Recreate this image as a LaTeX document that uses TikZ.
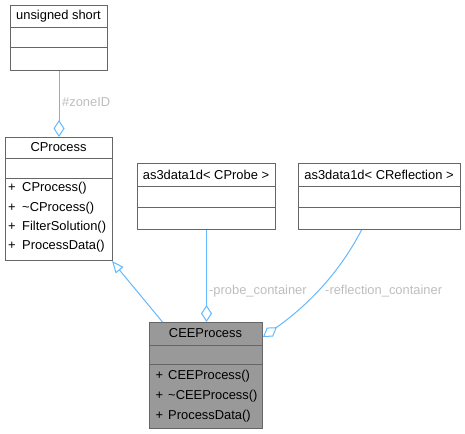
\documentclass[tikz,border=0pt]{standalone}
\usepackage{fontspec}
\setmainfont{Liberation Sans}
\usetikzlibrary{arrows.meta}
\definecolor{boxgray}{HTML}{666666}
\definecolor{edgeblue}{HTML}{63B8FF}
\definecolor{lblgray}{HTML}{BEBEBE}
\definecolor{selfill}{HTML}{999999}
\tikzset{
  clsbox/.style={draw=boxgray, line width=1pt, inner sep=0pt, anchor=north west, fill=white},
  sepline/.style={draw=boxgray, line width=1pt},
  ttl/.style={inner sep=0pt, anchor=center, font=\fontsize{12.9}{15}\selectfont},
  mth/.style={inner sep=0pt, anchor=west, font=\fontsize{12.9}{15}\selectfont},
  lbl/.style={inner sep=0pt, anchor=west, text=lblgray, font=\fontsize{12.9}{15}\selectfont},
  edge/.style={draw=edgeblue, line width=1pt},
  aggr/.style={edge, -{Diamond[open, length=17pt, width=11pt]}},
  inher/.style={edge, -{Triangle[open, length=12pt, width=10pt]}}
}
\begin{document}
\begin{tikzpicture}[x=1pt,y=-1pt]
\useasboundingbox (0,0) rectangle (465,433);

% unsigned short
\node[clsbox, minimum width=97pt, minimum height=65pt] (us) at (10,5) {};
\draw[sepline] (us.west |- 0,28) -- (us.east |- 0,28);
\draw[sepline] (us.west |- 0,48) -- (us.east |- 0,48);
\node[ttl] (ust) at (58.5,16.5) {unsigned short};

% CProcess
\node[clsbox, minimum width=107pt, minimum height=123pt] (cp) at (5,137) {};
\draw[sepline] (cp.west |- 0,158) -- (cp.east |- 0,158);
\draw[sepline] (cp.west |- 0,178) -- (cp.east |- 0,178);
\node[ttl] (cpt) at (58.5,147.5) {CProcess};
\node[mth] (cpm1) at (8,188) {+\hspace{6.5pt}CProcess()};
\node[mth] (cpm2) at (8,208) {+\hspace{6.5pt}\char"007E CProcess()};
\node[mth] (cpm3) at (8,227) {+\hspace{6.5pt}FilterSolution()};
\node[mth] (cpm4) at (8,246) {+\hspace{6.5pt}ProcessData()};

% as3data1d< CProbe >
\node[clsbox, minimum width=138pt, minimum height=66pt] (pr) at (137,163) {};
\draw[sepline] (pr.west |- 0,186) -- (pr.east |- 0,186);
\draw[sepline] (pr.west |- 0,207) -- (pr.east |- 0,207);
\node[ttl] (prt) at (206,175) {as3data1d< CProbe >};

% as3data1d< CReflection >
\node[clsbox, minimum width=162pt, minimum height=66pt] (rf) at (298,163) {};
\draw[sepline] (rf.west |- 0,186) -- (rf.east |- 0,186);
\draw[sepline] (rf.west |- 0,207) -- (rf.east |- 0,207);
\node[ttl] (rft) at (379,175) {as3data1d< CReflection >};

% CEEProcess
\node[clsbox, fill=selfill, minimum width=113pt, minimum height=106pt] (ce) at (149,322) {};
\draw[sepline] (ce.west |- 0,345) -- (ce.east |- 0,345);
\draw[sepline] (ce.west |- 0,364) -- (ce.east |- 0,364);
\node[ttl] (cet) at (205.5,333.5) {CEEProcess};
\node[mth] (cem1) at (155.5,376) {+\hspace{5pt}CEEProcess()};
\node[mth] (cem2) at (155.5,396) {+\hspace{5pt}\char"007E CEEProcess()};
\node[mth] (cem3) at (155.5,416) {+\hspace{5pt}ProcessData()};

% connectors
\draw[aggr] (us.south -| 59,0) -- (cp.north -| 59,0);
\node[lbl] (l1) at (62,102) {\#zoneID};

\draw[inher] ([xshift=-43.5pt]ce.north) -- ([xshift=-1pt]cp.south east);

\draw[aggr] (pr.south) -- (ce.north -| pr.south);
\node[lbl] (l2) at (209,291) {-probe\_container};

\draw[aggr] ([xshift=-18pt]rf.south) .. controls (345,262) and (318,298) .. ([yshift=-15pt]ce.north east);
\node[lbl] (l3) at (325,291) {-reflection\_container};
\end{tikzpicture}
\end{document}
